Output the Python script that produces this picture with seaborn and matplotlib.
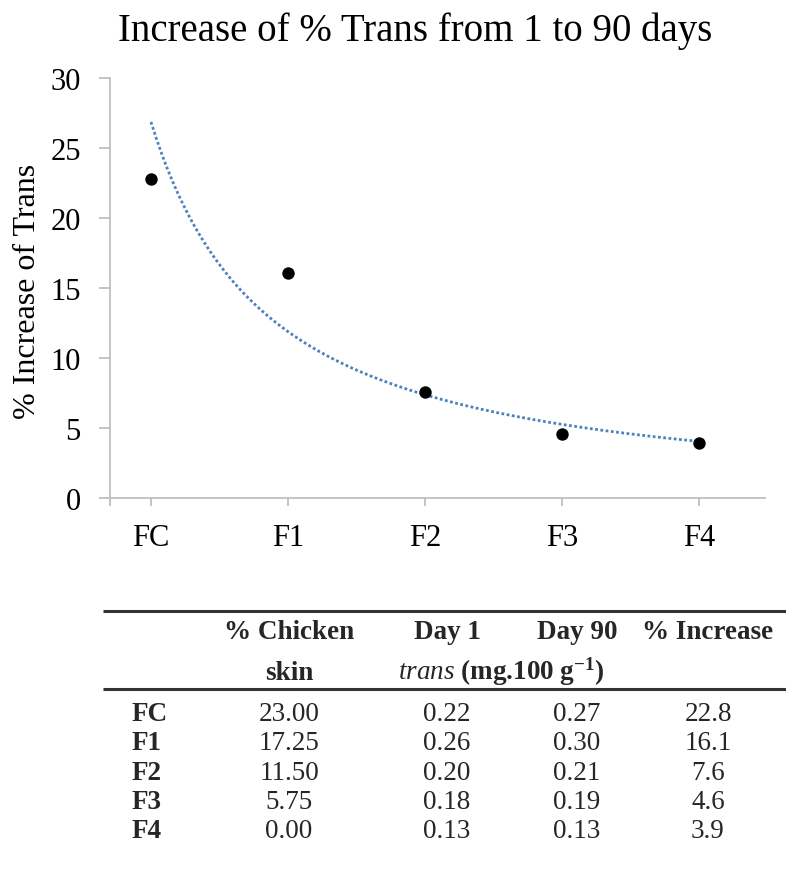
import numpy as np
import pandas as pd
import matplotlib
matplotlib.use("Agg")
import matplotlib.pyplot as plt
import seaborn as sns

# Formulations and measured values
formulations = ["FC", "F1", "F2", "F3", "F4"]
chicken_skin = ["23.00", "17.25", "11.50", "5.75", "0.00"]
trans_day1 = ["0.22", "0.26", "0.20", "0.18", "0.13"]
trans_day90 = ["0.27", "0.30", "0.21", "0.19", "0.13"]
pct_increase = [22.8, 16.1, 7.6, 4.6, 3.9]
y_ticks = [0, 5, 10, 15, 20, 25, 30]

sns.set_theme(style="white")
plt.rcParams["font.family"] = ["Liberation Serif", "DejaVu Serif"]
plt.rcParams["mathtext.fontset"] = "custom"
plt.rcParams["mathtext.rm"] = "Liberation Serif"
plt.rcParams["mathtext.it"] = "Liberation Serif:italic"
plt.rcParams["mathtext.bf"] = "Liberation Serif:bold"

W, H = 786, 870
fig = plt.figure(figsize=(W / 100, H / 100), dpi=100)
fig.patch.set_facecolor("white")

# ---- scatter chart with power trendline ----
ax_l, ax_r, ax_t, ax_b = 110, 765, 79, 499
ax = fig.add_axes([ax_l / W, 1 - ax_b / H, (ax_r - ax_l) / W, (ax_b - ax_t) / H])

pos = np.arange(1, len(formulations) + 1)
df = pd.DataFrame({"pos": pos, "inc": pct_increase})

# power trendline y = a * x^b fitted on log-log scale
b, ln_a = np.polyfit(np.log(pos), np.log(pct_increase), 1)
xs = np.linspace(pos[0], pos[-1], 200)
trend = pd.DataFrame({"pos": xs, "fit": np.exp(ln_a) * xs ** b})
sns.lineplot(data=trend, x="pos", y="fit", ax=ax, color="#4F81BD",
             linewidth=2.0, linestyle=(0, (1, 0.9)), zorder=2)
sns.scatterplot(data=df, x="pos", y="inc", ax=ax, color="black", s=80,
                edgecolor="black", linewidth=0, zorder=3)

x_left = 1 - (151 - ax_l) / 137
x_right = 1 + (ax_r - 151) / 137
ax.set_xlim(x_left, x_right)
ax.set_ylim(0, 30)
ax.set_yticks(y_ticks)
ax.set_yticklabels([str(t) for t in y_ticks])
ax.set_xticks(list(pos) + [x_left])
ax.set_xticklabels(formulations + [""])
ax.set_xlabel("")
ax.set_ylabel("")

grey = "#bfbfbf"
for side in ["top", "right"]:
    ax.spines[side].set_visible(False)
for side in ["left", "bottom"]:
    ax.spines[side].set_color(grey)
    ax.spines[side].set_linewidth(1.3)
ax.tick_params(axis="y", direction="out", length=8, width=1.3, color=grey,
               labelsize=22, pad=13, left=True, labelcolor="black")
ax.tick_params(axis="x", direction="out", length=6, width=1.3, color=grey,
               labelsize=22, pad=12, bottom=True, labelcolor="black")
ax.patch.set_alpha(0)

fig.text(415 / W, 1 - 41 / H, "Increase of % Trans from 1 to 90 days",
         ha="center", va="baseline", fontsize=28, color="black")
fig.text(28 / W, 1 - 291 / H, "% Increase of Trans", rotation=90,
         ha="center", va="center", fontsize=23, color="black")

# ---- data table ----
tab = fig.add_axes([0, 0, 1, 1], zorder=-1)
tab.set_xlim(0, W)
tab.set_ylim(H, 0)
tab.axis("off")

tab.hlines([612, 690], 103, 786, color="#333333", linewidth=2.2)

fs = 19.5
col_x = [289, 447, 577, 708]
headers = ["% Chicken", "Day 1", "Day 90", "% Increase"]
for x, h in zip(col_x, headers):
    tab.text(x, 639, h, ha="center", va="baseline", fontsize=fs, fontweight="bold")
tab.text(289, 680, "skin", ha="center", va="baseline", fontsize=fs, fontweight="bold")
tab.text(501, 680, r"$\mathit{trans}$ (mg.100 g$^{\mathbf{-1}}$)", ha="center",
         va="baseline", fontsize=fs, fontweight="bold")

row_y = [721, 750.3, 779.6, 808.9, 838.2]
for i, y in enumerate(row_y):
    tab.text(132, y, formulations[i], ha="left", va="baseline", fontsize=fs,
             fontweight="bold")
    vals = [chicken_skin[i], trans_day1[i], trans_day90[i], f"{pct_increase[i]:.1f}"]
    for x, v in zip(col_x, vals):
        tab.text(x, y, v, ha="center", va="baseline", fontsize=fs)

fig.savefig("out.png", dpi=100, facecolor="white")
